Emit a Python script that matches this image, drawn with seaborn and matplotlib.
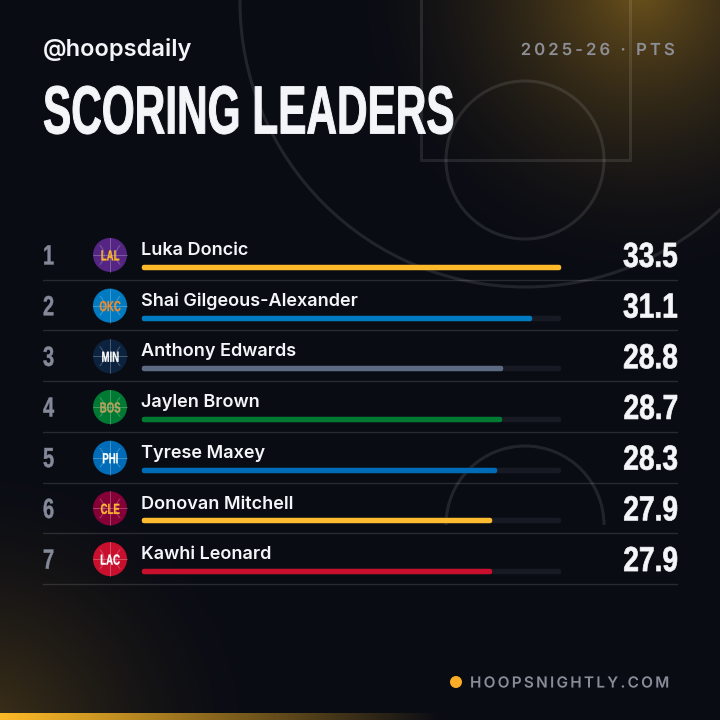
import matplotlib
matplotlib.use('Agg')
import matplotlib.pyplot as plt
from matplotlib.font_manager import FontProperties
from matplotlib.colors import to_rgb
from matplotlib.patches import Arc
from matplotlib.path import Path
from matplotlib.text import Text
from matplotlib.textpath import TextPath, text_to_path
from matplotlib.transforms import Affine2D, Bbox
import numpy as np
import pandas as pd
import seaborn as sns

players = ['Luka Doncic', 'Shai Gilgeous-Alexander', 'Anthony Edwards', 'Jaylen Brown',
           'Tyrese Maxey', 'Donovan Mitchell', 'Kawhi Leonard']
teams = ['LAL', 'OKC', 'MIN', 'BOS', 'PHI', 'CLE', 'LAC']
points = [33.5, 31.1, 28.8, 28.7, 28.3, 27.9, 27.9]
bar_colors = ['#fdb927', '#007ac1', '#5c6b82', '#007a33', '#006bb6', '#fdbb30', '#c8102e']
logo_colors = ['#552583', '#007ac1', '#0c2340', '#007a33', '#006bb6', '#860038', '#c8102e']
logo_text = ['#fdb927', '#ef8b2d', '#ffffff', '#b9a35f', '#ffffff', '#fdbb30', '#ffffff']

sns.set_theme(style='white')


# no condensed font is installed and no letter spacing in matplotlib, so squeeze/space glyphs here
class WideText(Text):
    def __init__(self, x, y, s, xscale=1.0, tracking=0.0, stroke=0.0, **kw):
        super().__init__(x, y, s, **kw)
        self.xscale = xscale
        self.tracking = tracking
        self.stroke = stroke

    def _glyphs(self):
        prop = self.get_fontproperties()
        s = self.get_text()
        parts = []
        for i, ch in enumerate(s):
            if ch == ' ':
                continue
            w = text_to_path.get_text_width_height_descent(s[:i], prop, False)[0] if i else 0
            tp = TextPath((0, 0), ch, size=prop.get_size_in_points(), prop=prop)
            parts.append(tp.transformed(Affine2D().translate(w + i * self.tracking, 0)))
        return Path.make_compound_path(*parts)

    def _placed(self, renderer):
        path = self._glyphs()
        ext = path.get_extents()
        px = self.get_figure().dpi / 72
        x, y = self.get_transform().transform(self.get_position())
        w = ext.x1 * self.xscale * px
        dx = {'left': 0, 'right': -w, 'center': -w / 2}[self.get_ha()]
        dy = -(ext.y0 + ext.y1) / 2 * px
        return path, Affine2D().scale(self.xscale * px, px).translate(x + dx, y + dy)

    def draw(self, renderer):
        path, tr = self._placed(renderer)
        gc = renderer.new_gc()
        gc.set_foreground(self.get_color())
        gc.set_linewidth(self.stroke)
        renderer.draw_path(gc, path, tr, to_rgb(self.get_color()))
        gc.restore()

    def get_window_extent(self, renderer=None, dpi=None):
        path, tr = self._placed(renderer)
        e = path.transformed(tr).get_extents()
        return Bbox([[e.x0, e.y0], [e.x1, e.y1]])


def wide(ax, x, y, s, color, size, family='Liberation Sans', weight='bold', ha='left', **kw):
    prop = FontProperties(family=family, weight=weight, size=size)
    ax.add_artist(WideText(x, y, s, color=color, fontproperties=prop, ha=ha, va='center', **kw))


fig = plt.figure(figsize=(7.2, 7.2), dpi=100)

# background in pixel coords
bg = fig.add_axes([0, 0, 1, 1])
bg.set_xlim(0, 720)
bg.set_ylim(720, 0)
bg.axis('off')
yy, xx = np.mgrid[0:720, 0:720]
base = np.array([10, 12, 20], dtype=float)
amber = np.array([253, 185, 39], dtype=float)
glow1 = 0.40 * np.clip(1 - np.hypot(xx - 640, yy + 10) / 300, 0, 1) ** 1.9
glow2 = 0.24 * np.clip(1 - np.hypot(xx + 20, yy - 740) / 290, 0, 1) ** 1.8
glow = (glow1 + glow2)[..., None]
img = base * (1 - glow) + amber * glow
strip = (np.clip(1 - xx / 440, 0, 1) * (yy >= 713))[..., None]
img = img * (1 - strip) + amber * strip
bg.imshow(img.astype(np.uint8), extent=(0, 720, 720, 0), aspect='auto', zorder=0)
bg.set_xlim(0, 720)
bg.set_ylim(720, 0)

# court lines
line = (1, 1, 1, 0.10)
bg.plot([421, 421, 630, 630], [0, 160, 160, 0], color=line, lw=2.2)
bg.add_patch(plt.Circle((525, 160), 79, fill=False, ec=line, lw=2.2))
bg.add_patch(plt.Circle((525, 2), 285, fill=False, ec=line, lw=2.2))
bg.add_patch(Arc((525, 525), 158, 158, theta1=180, theta2=360, ec=line, lw=2.2))

row_h = 50.7
first_y = 267.4
spoke = (1, 1, 1, 0.25)

for i in range(len(players)):
    y = first_y + i * row_h
    cy = y - 12.5
    bg.plot([43, 677], [y + 12.4, y + 12.4], color=(1, 1, 1, 0.13), lw=1)
    wide(bg, 43, cy, str(i + 1), '#858a9a', 20, xscale=0.72, stroke=0.3)

    # team ball
    bg.add_patch(plt.Circle((110, cy), 17, color=logo_colors[i], lw=0))
    bg.plot([93, 127], [cy, cy], color=spoke, lw=0.7)
    bg.plot([110, 110], [cy - 17, cy + 17], color=spoke, lw=0.7)
    bg.add_patch(Arc((91, cy), 26, 26, theta1=-48, theta2=48, ec=spoke, lw=0.7))
    bg.add_patch(Arc((129, cy), 26, 26, theta1=132, theta2=228, ec=spoke, lw=0.7))
    wide(bg, 110, cy + 0.5, teams[i], logo_text[i], 10.5, ha='center', xscale=0.66, stroke=0.2)

    bg.text(141, y - 16.8, players[i], color='#f4f5f9', fontsize=13, fontweight='semibold',
            family='Inter', va='center', ha='left')
    wide(bg, 677, cy, f'{points[i]:.1f}', '#f4f5f9', 25, ha='right', xscale=0.81, stroke=0.5)

bg.text(43, 49.8, '@hoopsdaily', color='#f4f5f9', fontsize=17, fontweight='semibold',
        family='Inter', va='center', ha='left')
wide(bg, 43, 110, 'SCORING LEADERS', '#f4f5f9', 49, xscale=0.622, stroke=0.7)
wide(bg, 674, 49, '2025-26 · PTS', '#8e8f96', 12, family='Inter', weight='semibold',
     ha='right', tracking=2.2)
bg.add_patch(plt.Circle((456, 682), 6, color='#fbad26', lw=0))
wide(bg, 470, 682, 'HOOPSNIGHTLY.COM', '#8a8d99', 11, family='Inter', weight='semibold',
     tracking=1.65)

# bars, one category per row
ax = fig.add_axes([143.7 / 720, 1 - (first_y + 6.5 * row_h) / 720, 415.6 / 720, 7 * row_h / 720])
ax.patch.set_alpha(0)
df = pd.DataFrame({'player': players, 'pts': points})
track = [max(points)] * len(players)
sns.barplot(x=track, y=players, color='#171a22', width=0.02, ax=ax, saturation=1)
sns.barplot(data=df, x='pts', y='player', hue='player', palette=bar_colors, width=0.02,
            legend=False, ax=ax, saturation=1)
for p in ax.patches:
    p.set_edgecolor(p.get_facecolor())
    p.set_linewidth(3.2)
    p.set_joinstyle('round')
    p.set_clip_on(False)
ax.set_xlim(0, max(points))
ax.set_ylim(6.5, -0.5)
ax.axis('off')

fig.savefig('out.png', dpi=100)
